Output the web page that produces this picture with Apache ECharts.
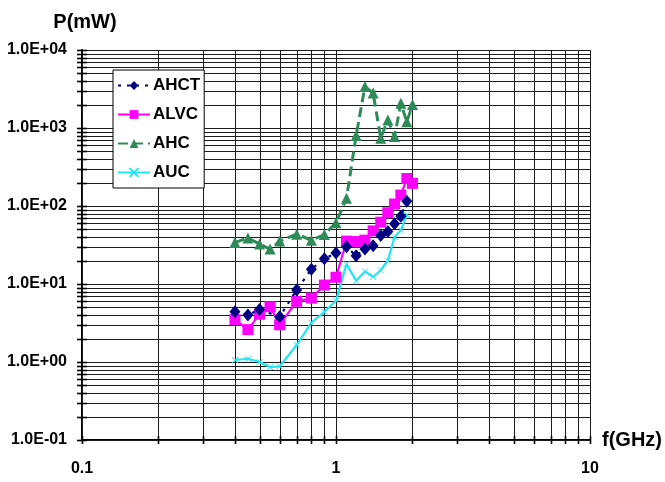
<!DOCTYPE html>
<html>
<head>
<meta charset="utf-8">
<script src="https://cdn.jsdelivr.net/npm/echarts@6/dist/echarts.min.js"></script>
<style>
html,body{margin:0;padding:0;background:#fff;}
#chart{width:665px;height:482px;}
</style>
</head>
<body>
<div id="chart"></div>
<script>
// ---- data ----
const freq = [0.4, 0.45, 0.5, 0.55, 0.6, 0.7, 0.8, 0.9, 1.0, 1.1, 1.2, 1.3, 1.4, 1.5, 1.6, 1.7, 1.8, 1.9, 2.0];
const AHCT = [4.4, 4.0, 4.7, null, 3.8, 8.4, 15.5, 21, 25, 30, 23, 28, 31, 42, 47, 59, 74, 115, null];
const ALVC = [3.5, 2.6, 4.1, 5.1, 3.0, 6.0, 6.6, 9.7, 12.2, 35.5, 35, 36.5, 48, 62, 82, 106, 138, 225, 195];
const AHC  = [34, 39, 32.5, 28, 35.5, 43.5, 36.5, 43, 61, 126, 800, 3400, 2800, 740, 1270, 780, 2070, 1200, 2000];
const AUC  = [1.06, 1.1, 1.0, 0.86, 0.88, 1.65, 3.2, 4.4, 6.1, 18, 11, 14.5, 12.3, 15, 20, 40, 49, 77, null];

const seriesNames = ['AHCT', 'ALVC', 'AHC', 'AUC'];
const xTickValues = [0.1, 1, 10];
const xTickLabels = ['0.1', '1', '10'];
const yTickValues = [0.1, 1, 10, 100, 1000, 10000];
const yTickLabels = ['1.0E-01', '1.0E+00', '1.0E+01', '1.0E+02', '1.0E+03', '1.0E+04'];
const mantissas = [1, 2, 3, 4, 5, 6, 7, 8, 9];
const xDecades = [0.1, 1];
const yDecades = [0.1, 1, 10, 100, 1000];
// --------------------------------------

function pairs(ys) {
  return freq.map((f, i) => ys[i] == null ? null : [f, ys[i]]).filter(p => p);
}
function gridValues(decades, last) {
  const out = [];
  decades.forEach(d => mantissas.forEach(m => out.push(+(d * m).toPrecision(6))));
  out.push(last);
  return out;
}
function labelFor(values, labels, v) {
  let best = 0, bd = Infinity;
  values.forEach((t, i) => { const d = Math.abs(Math.log10(v) - Math.log10(t)); if (d < bd) { bd = d; best = i; } });
  return labels[best];
}

const xGrid = gridValues(xDecades, 10).map(v => [v, 1]);
const yGrid = gridValues(yDecades, 10000).map(v => [1, v]);

const font = 'Liberation Sans, Arial, sans-serif';
const gridColor = '#1c1c1c';

function renderVLine(params, api) {
  const cs = params.coordSys;
  const x = Math.round(api.coord([api.value(0), api.value(1)])[0]) + 0.5;
  const bottom = cs.y + cs.height;
  return {
    type: 'group',
    children: [
      { type: 'line', shape: { x1: x, y1: cs.y, x2: x, y2: bottom }, style: { stroke: gridColor, lineWidth: 1 } },
      { type: 'line', shape: { x1: x, y1: bottom - 4, x2: x, y2: bottom + 4 }, style: { stroke: '#000', lineWidth: 1.6 } }
    ]
  };
}
function renderHLine(params, api) {
  const cs = params.coordSys;
  const y = Math.round(api.coord([api.value(0), api.value(1)])[1]) + 0.5;
  return {
    type: 'group',
    children: [
      { type: 'line', shape: { x1: cs.x, y1: y, x2: cs.x + cs.width, y2: y }, style: { stroke: gridColor, lineWidth: 1 } },
      { type: 'line', shape: { x1: cs.x - 5, y1: y, x2: cs.x + 5, y2: y }, style: { stroke: '#000', lineWidth: 1.6 } }
    ]
  };
}

const chart = echarts.init(document.getElementById('chart'), null, { renderer: 'canvas' });
chart.setOption({
  animation: false,
  backgroundColor: '#ffffff',
  textStyle: { fontFamily: font },
  grid: { left: 82, right: 74, top: 50, bottom: 42, containLabel: false },
  xAxis: {
    type: 'log', logBase: 10, min: 0.1, max: 10,
    name: 'f(GHz)', nameLocation: 'end', nameGap: 12,
    nameTextStyle: { fontFamily: font, fontSize: 20, fontWeight: 'bold', color: '#000', padding: [0, 0, 12, 0] },
    axisLine: { show: true, lineStyle: { color: '#000', width: 2 } },
    axisTick: { show: false },
    splitLine: { show: false },
    axisLabel: {
      margin: 21, fontFamily: font, fontSize: 16, fontWeight: 'bold', color: '#000',
      formatter: v => labelFor(xTickValues, xTickLabels, v)
    }
  },
  yAxis: {
    type: 'log', logBase: 10, min: 0.1, max: 10000,
    name: 'P(mW)', nameLocation: 'end', nameGap: 18,
    nameTextStyle: { fontFamily: font, fontSize: 20, fontWeight: 'bold', color: '#000', align: 'center', padding: [0, 0, 0, 6] },
    axisLine: { show: true, lineStyle: { color: '#000', width: 2 } },
    axisTick: { show: false },
    splitLine: { show: false },
    axisLabel: {
      margin: 15, fontFamily: font, fontSize: 16, fontWeight: 'bold', color: '#000',
      formatter: v => labelFor(yTickValues, yTickLabels, v)
    }
  },
  legend: {
    data: seriesNames,
    orient: 'vertical',
    left: 113, top: 70,
    backgroundColor: '#fff',
    borderColor: '#000', borderWidth: 1,
    padding: [7, 4, 7, 4],
    itemWidth: 32, itemHeight: 11, itemGap: 12,
    textStyle: { fontFamily: font, fontSize: 17, fontWeight: 'bold', color: '#000', padding: [0, 0, 0, -2] }
  },
  series: [
    { type: 'custom', name: 'vgrid', silent: true, z: 1, renderItem: renderVLine, data: xGrid, encode: { x: 0, y: 1 }, clip: false },
    { type: 'custom', name: 'hgrid', silent: true, z: 1, renderItem: renderHLine, data: yGrid, encode: { x: 0, y: 1 }, clip: false },
    {
      name: 'AHCT', type: 'line', z: 5, data: pairs(AHCT),
      symbol: 'diamond', symbolSize: [11, 13],
      lineStyle: { color: '#000080', width: 2.2, type: [3, 6] },
      itemStyle: { color: '#000080' }
    },
    {
      name: 'ALVC', type: 'line', z: 4, data: pairs(ALVC),
      symbol: 'rect', symbolSize: 11,
      lineStyle: { color: '#ff00ff', width: 2.2, type: 'solid' },
      itemStyle: { color: '#ff00ff' }
    },
    {
      name: 'AHC', type: 'line', z: 3, data: pairs(AHC),
      symbol: 'triangle', symbolSize: 11,
      lineStyle: { color: '#2e8b57', width: 3, type: [10, 5] },
      itemStyle: { color: '#2e8b57' }
    },
    {
      name: 'AUC', type: 'line', z: 3, data: pairs(AUC),
      symbol: 'path://M0,0L10,10M10,0L0,10', symbolSize: 6,
      lineStyle: { color: '#22e6f2', width: 2.2, type: 'solid' },
      itemStyle: { color: '#22e6f2', borderColor: '#22e6f2', borderWidth: 1 }
    }
  ]
});
</script>
</body>
</html>
